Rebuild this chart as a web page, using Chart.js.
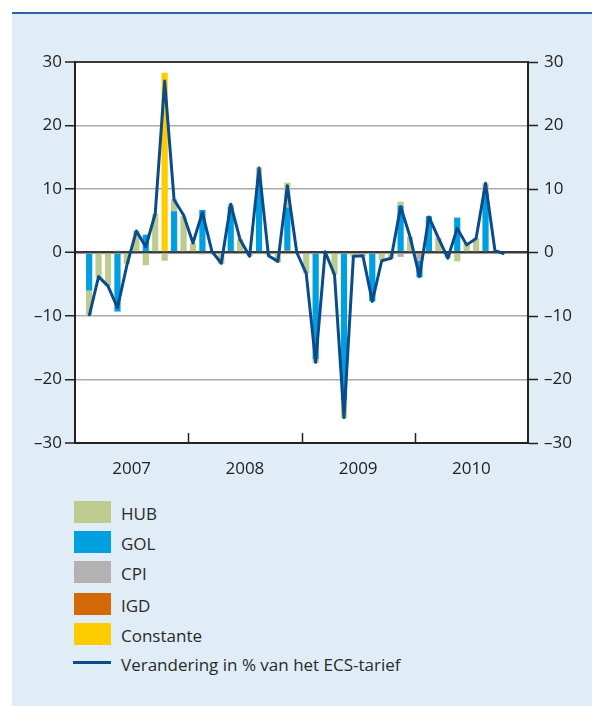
<!DOCTYPE html>
<html>
<head>
<meta charset="utf-8">
<script src="https://cdn.jsdelivr.net/npm/chart.js@4/dist/chart.umd.min.js"></script>
<style>
  html, body { margin: 0; padding: 0; background: #ffffff; width: 592px; height: 706px; overflow: hidden; }
  #box { position: absolute; left: 12px; top: 12px; width: 580px; height: 694px; background: #e1edf6; border-top: 2px solid #2a63a0; box-sizing: border-box; }
  #c { position: absolute; left: 12px; top: 13px; }
  #legend { position: absolute; left: 0; top: 0; font-family: "Open Sans", "Noto Sans", sans-serif; font-size: 17px; color: #2a2a2a; }
  .li { position: absolute; left: 74px; height: 22px; white-space: nowrap; }
  .sw { position: absolute; left: 0; top: 0; width: 37px; height: 22px; }
  .ln { position: absolute; left: -1px; top: 9px; width: 38px; height: 3px; }
  .tx { position: absolute; left: 47px; top: 2px; line-height: 22px; }
</style>
</head>
<body>
<div id="box"></div>
<canvas id="c" width="580" height="477"></canvas>
<div id="legend"></div>
<script>
// ---- data ----
const years = ['2007', '2008', '2009', '2010'];
const monthNames = ['jan','feb','mrt','apr','mei','jun','jul','aug','sep','okt','nov','dec'];
const yTicks = [-30, -20, -10, 0, 10, 20, 30];

const seriesNames = ['HUB', 'GOL', 'CPI', 'IGD', 'Constante'];
const lineName = 'Verandering in % van het ECS-tarief';

const HUB = [null,-4,-4,-5.3,0.3,-1.8,3.4,-2.0,6.1,-1.3,1.9,5.7,
             1.5,-0.3,-0.3,-1.8,0.4,2.1,-0.6,2.0,-0.4,-1.6,3.9,-0.2,
             -3.3,-0.6,0.2,-3.5,-2.8,-0.7,-0.6,null,-1.2,-1.0,0.6,2.5,
             null,null,2.3,-0.9,-1.4,1.5,2.2,1.5,0.2,-0.2,null,null];
const GOL = [null,-6,null,null,-9.3,null,null,2.8,null,null,6.5,null,
             null,6.7,null,null,7.2,null,null,11.4,null,null,6.8,null,
             null,-16.8,null,null,-23.3,null,null,-7.7,null,null,7.4,null,
             -2.6,5.7,null,null,5.5,null,null,9.4,null,null,null,null];
const CPI = [null,null,null,null,null,null,null,null,null,null,null,null,
             null,null,null,null,null,null,null,null,null,null,null,null,
             null,null,null,null,null,null,null,null,null,null,-0.7,null,
             -1.0,null,null,null,null,null,null,null,null,null,null,null];
const IGD = [null,null,null,null,null,null,null,null,null,null,null,null,
             null,null,null,null,null,null,null,null,null,null,0.3,null,
             0.2,null,null,null,null,null,null,null,null,null,null,null,
             -0.3,null,null,null,null,null,null,null,null,null,null,null];
const CONST = [null,null,null,null,null,null,null,null,null,28.3,null,null,
               null,null,null,null,null,null,null,null,null,null,null,null,
               null,null,null,null,null,null,null,null,null,null,null,null,
               null,null,null,null,null,null,null,null,null,null,null,null];
const TOTAL = [null,-10,-3.8,-5.3,-8.7,-2.0,3.4,0.9,6.1,27.0,8.3,5.9,
               1.5,6.3,0.2,-1.7,7.6,2.0,-0.6,13.3,-0.5,-1.4,10.5,0.0,
               -3.3,-17.3,0.1,-3.5,-26.0,-0.6,-0.5,-7.7,-1.3,-0.9,7.2,2.5,
               -3.8,5.6,2.3,-0.9,3.8,1.2,2.2,10.9,0.3,-0.2,null,null];

const colors = { HUB: '#bccb8e', GOL: '#009fe0', CPI: '#b2b2b2', IGD: '#d4690a', Constante: '#ffcc00', line: '#0b4a8c' };

const months = [];
years.forEach(y => monthNames.forEach(m => months.push(m + ' ' + y)));

const FONT = '"Open Sans", "Noto Sans", sans-serif';
const fmt = v => (v < 0 ? '\u2013' + Math.abs(v) : String(v));

const seriesData = { HUB: HUB, GOL: GOL, CPI: CPI, IGD: IGD, Constante: CONST };
// stacking order: closest to zero first
const stackOrder = ['IGD', 'CPI', 'Constante', 'GOL', 'HUB'];

const datasets = [{
  type: 'line', label: lineName, data: TOTAL, borderColor: colors.line, borderWidth: 3,
  pointRadius: 0, tension: 0, fill: false, stack: 'total', xAxisID: 'x', yAxisID: 'y',
  borderJoinStyle: 'round'
}];
stackOrder.forEach(n => datasets.push({
  type: 'bar', label: n, data: seriesData[n], backgroundColor: colors[n],
  barPercentage: 0.66, categoryPercentage: 1, xAxisID: 'x', yAxisID: 'y'
}));

const bgPlugin = {
  id: 'bg',
  beforeDraw(chart) {
    const { ctx, chartArea: a } = chart;
    ctx.save(); ctx.fillStyle = '#ffffff';
    ctx.fillRect(a.left, a.top, a.right - a.left, a.bottom - a.top);
    ctx.restore();
  },
  afterDraw(chart) {
    const { ctx, chartArea: a } = chart;
    const s = chart.scales.x2;
    ctx.save(); ctx.strokeStyle = '#222'; ctx.lineWidth = 1.5;
    for (let k = 1; k < years.length; k++) {
      const px = Math.round(s.getPixelForValue(k * 12)) + 0.5;
      ctx.beginPath(); ctx.moveTo(px, a.bottom); ctx.lineTo(px, a.bottom - 10); ctx.stroke();
    }
    ctx.restore();
  }
};

new Chart(document.getElementById('c'), {
  type: 'bar',
  data: { labels: months, datasets: datasets },
  options: {
    responsive: false, animation: false,
    layout: { padding: { top: 49, left: 0, right: 0, bottom: 0 } },
    plugins: { legend: { display: false }, tooltip: { enabled: false } },
    scales: {
      x: { type: 'category', display: false, stacked: true, offset: true },
      x2: {
        type: 'linear', position: 'bottom', min: 0, max: years.length * 12, offset: false,
        afterBuildTicks: s => { s.ticks = years.map((y, k) => ({ value: k * 12 + 6 })); },
        ticks: { callback: (v) => years[Math.floor(v / 12)], color: '#222', font: { family: FONT, size: 17 }, padding: 8, maxRotation: 0, autoSkip: false },
        grid: { display: false, offset: false },
        border: { display: true, color: '#222', width: 2 },
        afterFit: s => { s.height = 47; }
      },
      y: {
        position: 'left', stacked: true, min: -30, max: 30,
        afterBuildTicks: s => { s.ticks = yTicks.map(v => ({ value: v })); },
        ticks: { callback: fmt, color: '#222', font: { family: FONT, size: 17 }, padding: 3 },
        grid: {
          color: c => (c.tick && (c.tick.value === 0 || Math.abs(c.tick.value) === 30)) ? '#3a3a3a' : '#ababab',
          lineWidth: c => (c.tick && c.tick.value === 0) ? 2.5 : (c.tick && Math.abs(c.tick.value) === 30 ? 2 : 1.5),
          tickColor: '#222', tickLength: 10, tickWidth: 1.5
        },
        border: { display: true, color: '#222', width: 2 },
        afterFit: s => { s.width = 63; }
      },
      y2: {
        position: 'right', min: -30, max: 30,
        afterBuildTicks: s => { s.ticks = yTicks.map(v => ({ value: v })); },
        ticks: { callback: fmt, color: '#222', font: { family: FONT, size: 17 }, padding: 6 },
        grid: { drawOnChartArea: false, tickColor: '#222', tickLength: 10, tickWidth: 1.5 },
        border: { display: true, color: '#222', width: 2 },
        afterFit: s => { s.width = 64; }
      }
    }
  },
  plugins: [bgPlugin]
});

// legend (HTML, built from the series names and colours)
const legend = document.getElementById('legend');
const legendTops = [501, 531, 561, 593, 623];
seriesNames.forEach((n, k) => {
  const d = document.createElement('div'); d.className = 'li'; d.style.top = legendTops[k] + 'px';
  d.innerHTML = '<div class="sw" style="background:' + colors[n] + '"></div><div class="tx">' + n + '</div>';
  legend.appendChild(d);
});
const dl = document.createElement('div'); dl.className = 'li'; dl.style.top = '652px';
dl.innerHTML = '<div class="ln" style="background:' + colors.line + '"></div><div class="tx">' + lineName + '</div>';
legend.appendChild(dl);
</script>
</body>
</html>
